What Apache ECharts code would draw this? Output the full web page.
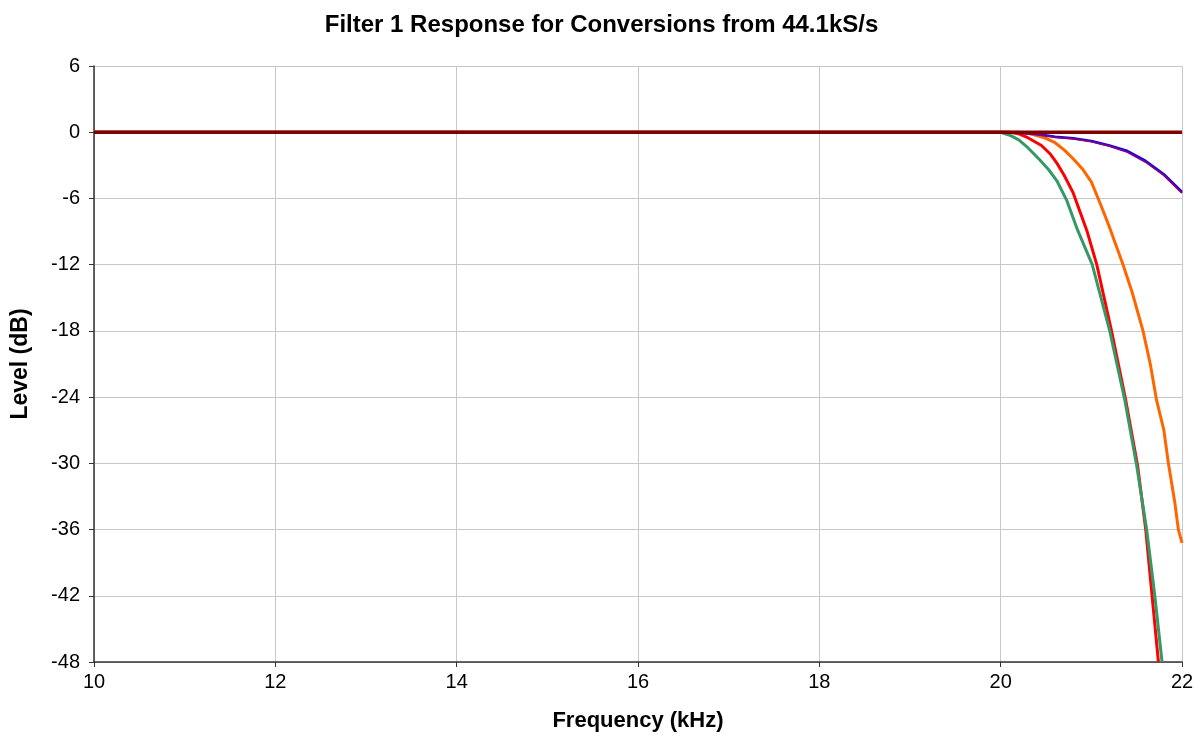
<!DOCTYPE html>
<html>
<head>
<meta charset="utf-8">
<script src="https://cdn.jsdelivr.net/npm/echarts@6/dist/echarts.min.js"></script>
<style>
  html, body { margin: 0; padding: 0; background: #fff; }
  #chart { width: 1203px; height: 747px; }
</style>
</head>
<body>
<div id="chart"></div>
<script>
// [frequency kHz, level dB]
const flatRef = [[10, 0], [22, 0]];
const blueResp = [[10, 0], [20, 0], [20.2, -0.05], [20.4, -0.15], [20.6, -0.4], [20.8, -0.55], [21.0, -0.8], [21.2, -1.2], [21.4, -1.7], [21.6, -2.6], [21.8, -3.8], [22, -5.4]];
const purpleResp = [[10, 0], [20, 0], [20.2, -0.08], [20.4, -0.2], [20.6, -0.45], [20.8, -0.6], [21.0, -0.85], [21.2, -1.25], [21.4, -1.8], [21.6, -2.7], [21.8, -3.9], [22, -5.5]];
const orangeResp = [[10, 0], [20.2, 0], [20.3, -0.1], [20.4, -0.3], [20.5, -0.55], [20.6, -0.95], [20.7, -1.6], [20.8, -2.4], [20.9, -3.3], [21.0, -4.5], [21.1, -6.5], [21.2, -8.6], [21.35, -12], [21.45, -14.5], [21.57, -18], [21.65, -21], [21.72, -24.3], [21.8, -27], [21.85, -30], [21.92, -33.5], [21.96, -36], [22, -37.2]];
const redResp = [[10, 0], [20.1, 0], [20.2, -0.15], [20.3, -0.5], [20.45, -1.2], [20.55, -2.0], [20.62, -2.8], [20.7, -3.9], [20.8, -5.5], [20.95, -8.9], [21.06, -12], [21.22, -17.9], [21.38, -24.3], [21.51, -30.2], [21.6, -36], [21.67, -42], [21.74, -48]];
const greenResp = [[10, 0], [20.0, 0], [20.1, -0.27], [20.2, -0.7], [20.3, -1.4], [20.43, -2.5], [20.53, -3.4], [20.62, -4.4], [20.73, -6.2], [20.85, -8.9], [21.01, -12], [21.2, -17.9], [21.37, -24.3], [21.5, -30.2], [21.61, -36], [21.7, -42], [21.78, -48]];

const xTicks = { min: 10, max: 22, interval: 2 };
const yTicks = { min: -48, max: 6, interval: 6 };

const chart = echarts.init(document.getElementById('chart'), null, { renderer: 'canvas' });

const mkSeries = (name, data, color, width) => ({
  name,
  type: 'line',
  data,
  showSymbol: false,
  symbol: 'none',
  animation: false,
  lineStyle: { color, width },
});

chart.setOption({
  animation: false,
  textStyle: { fontFamily: 'Liberation Sans, Arial, sans-serif' },
  title: {
    text: 'Filter 1 Response for Conversions from 44.1kS/s',
    left: 'center',
    top: 8,
    textStyle: { fontSize: 24, fontWeight: 'bold', color: '#000' },
  },
  grid: { left: 94, right: 21, top: 66, bottom: 85 },
  xAxis: {
    type: 'value',
    min: xTicks.min,
    max: xTicks.max,
    interval: xTicks.interval,
    name: 'Frequency (kHz)',
    nameLocation: 'middle',
    nameGap: 48,
    nameTextStyle: { fontSize: 22, fontWeight: 'bold', color: '#000' },
    axisLine: { onZero: false, lineStyle: { color: '#333', width: 1.5 } },
    axisTick: { show: true, length: 5, lineStyle: { color: '#333' } },
    axisLabel: { fontSize: 20, color: '#000', margin: 10 },
    splitLine: { show: true, lineStyle: { color: '#c8c8c8', width: 1 } },
  },
  yAxis: {
    type: 'value',
    min: yTicks.min,
    max: yTicks.max,
    interval: yTicks.interval,
    name: 'Level (dB)',
    nameLocation: 'middle',
    nameGap: 62,
    nameTextStyle: { fontSize: 23, fontWeight: 'bold', color: '#000' },
    axisLine: { show: true, onZero: false, lineStyle: { color: '#333', width: 1.5 } },
    axisTick: { show: true, length: 5, lineStyle: { color: '#333' } },
    axisLabel: { fontSize: 20, color: '#000', margin: 14 },
    splitLine: { show: true, lineStyle: { color: '#c8c8c8', width: 1 } },
  },
  series: [
    mkSeries('orange', orangeResp, '#ff6600', 3),
    mkSeries('red', redResp, '#ff0000', 3),
    mkSeries('green', greenResp, '#339966', 3),
    mkSeries('blue', blueResp, '#0000ff', 2.5),
    mkSeries('purple', purpleResp, '#800080', 2),
    mkSeries('flat', flatRef, '#800000', 3.5),
  ],
});
</script>
</body>
</html>
